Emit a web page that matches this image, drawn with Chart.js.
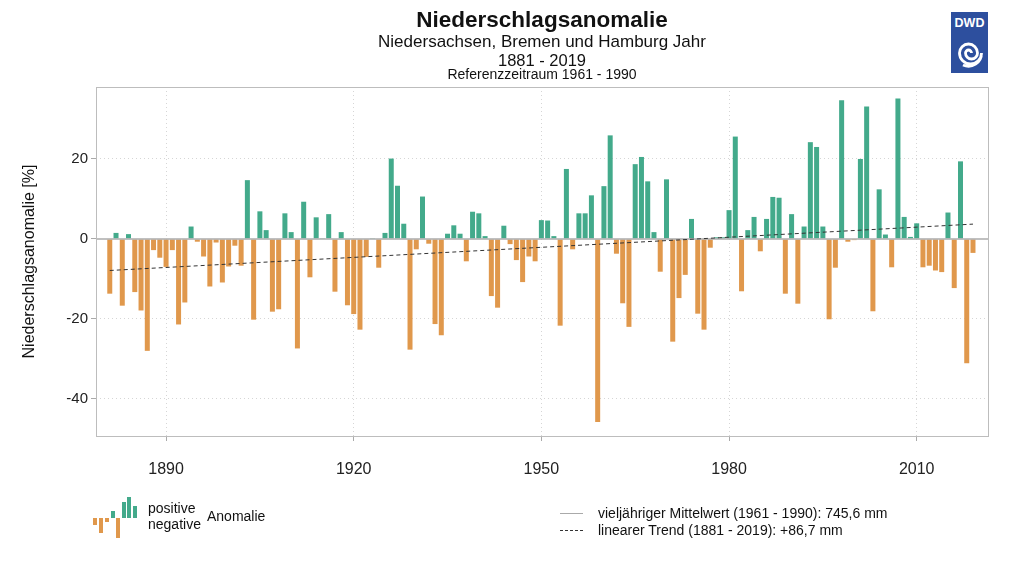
<!DOCTYPE html>
<html lang="de">
<head>
    <meta charset="UTF-8">
    <title>Niederschlagsanomalie</title>
    <style>
        body { margin: 0; background: #fff; font-family: "Liberation Sans", Arial, sans-serif; color: #111; }
        #wrap { position: relative; width: 1024px; height: 576px; overflow: hidden; }
        #myChart { position: absolute; left: 0; top: 0; }
        .t { position: absolute; white-space: nowrap; }
        .c { left: 542px; transform: translateX(-50%); }
        .bar { position: absolute; width: 4px; }
    </style>
</head>
<body>
<div id="wrap">
    <canvas id="myChart" width="1024" height="576"></canvas>

    <div class="t c" style="top:7px; font-size:22.5px; font-weight:bold;">Niederschlagsanomalie</div>
    <div class="t c" style="top:32px; font-size:17px;">Niedersachsen, Bremen und Hamburg Jahr</div>
    <div class="t c" style="top:51px; font-size:16.5px;">1881 - 2019</div>
    <div class="t c" style="top:66px; font-size:14px;">Referenzzeitraum 1961 - 1990</div>

    <svg style="position:absolute; left:951px; top:12px;" width="37" height="61" viewBox="0 0 37 61">
        <rect x="0" y="0" width="37" height="61" fill="#2d4f9e"/>
        <text x="18.5" y="15" fill="#fff" font-family="Liberation Sans, Arial" font-weight="bold" font-size="12.5" text-anchor="middle">DWD</text>
        <path d="M20.5 41 A3 3 0 0 0 14.5 41 A6 6 0 0 0 26.5 41 A9 9 0 0 0 8.5 41 A11 11 0 0 0 30.5 41 A13 13 0 0 1 12 53"
              fill="none" stroke="#fff" stroke-width="2.8"/>
    </svg>

    <div id="legIcon"></div>
    <div class="t" style="left:148px; top:500px; font-size:14px;">positive</div>
    <div class="t" style="left:148px; top:516px; font-size:14px;">negative</div>
    <div class="t" style="left:207px; top:508px; font-size:14px;">Anomalie</div>

    <div style="position:absolute; left:560px; top:513px; width:23px; border-top:1px solid #aaa;"></div>
    <div class="t" style="left:598px; top:505px; font-size:14px;">vieljähriger Mittelwert (1961 - 1990): 745,6 mm</div>
    <div style="position:absolute; left:560px; top:530px; width:23px; border-top:1px dashed #333;"></div>
    <div class="t" style="left:598px; top:522px; font-size:14px;">linearer Trend (1881 - 2019): +86,7 mm</div>
</div>

<script src="https://cdn.jsdelivr.net/npm/chart.js"></script>
<script>
    // Niederschlagsanomalie in % vom Mittel 1961-1990, ein Wert pro Jahr ab 1881
    const firstYear = 1881;
    const anomaly = [
        -13.7, 1.5, -16.7, 1.2, -13.3, -17.9, -28.0, -2.8, -4.7,          // 1881-1889
        -7.0, -2.8, -21.4, -15.9, 3.1, -0.7, -4.4, -11.9, -0.9, -10.9,     // 1890-1899
        -6.9, -1.7, -6.7, 14.7, -20.2, 6.9, 2.2, -18.2, -17.6, 6.4,        // 1900-1909
        1.7, -27.4, 9.3, -9.6, 5.4, 0.2, 6.2, -13.2, 1.7, -16.6,           // 1910-1919
        -18.8, -22.7, -4.5, 0.2, -7.2, 1.5, 20.1, 13.3, 3.8, -27.7,        // 1920-1929
        -2.6, 10.6, -1.2, -21.3, -24.1, 1.3, 3.4, 1.3, -5.6, 6.8,          // 1930-1939
        6.4, 0.7, -14.3, -17.2, 3.3, -1.3, -5.3, -10.8, -4.4, -5.6,        // 1940-1949
        4.7, 4.6, 0.7, -21.7, 17.5, -2.6, 6.4, 6.4, 10.9, -45.8,           // 1950-1959
        13.2, 25.9, -3.7, -16.1, -22.0, 18.7, 20.5, 14.4, 1.7, -8.2,       // 1960-1969
        14.9, -25.7, -14.8, -9.0, 5.0, -18.7, -22.7, -2.2, 0.4, 0.4,       // 1970-1979
        7.2, 25.6, -13.1, 2.2, 5.5, -3.1, 5.0, 10.5, 10.3, -13.7,          // 1980-1989
        6.2, -16.2, 3.1, 24.2, 23.0, 3.1, -20.1, -7.2, 34.7, -0.7,         // 1990-1999
        -0.3, 20.0, 33.1, -18.1, 12.4, 1.1, -7.1, 35.1, 5.5, 0.5,          // 2000-2009
        3.9, -7.1, -6.7, -7.9, -8.3, 6.6, -12.3, 19.4, -31.1, -3.5         // 2010-2019
    ];
    const trendYears = [1881, 2019];
    const trendValues = [-7.9, 3.7];
    const xRange = [1878.8, 2021.4];
    const yRange = [-49.3, 38];
    const xTicks = [1890, 1920, 1950, 1980, 2010];
    const yTicks = [-40, -20, 0, 20];

    const posColor = "#43aa8b";
    const negColor = "#e0984c";

    // kleines Balken-Symbol in der Legende
    const iconBars = [
        [93, -7], [99, -15], [105, -4], [111, 7], [116, -20], [122, 16], [127, 21], [133, 12]
    ];
    let v_icon = document.getElementById("legIcon");
    for (let i = 0; i < iconBars.length; i++) {
        let b = document.createElement("div");
        b.className = "bar";
        b.style.left = iconBars[i][0] + "px";
        let h = Math.abs(iconBars[i][1]);
        b.style.height = h + "px";
        b.style.top = (iconBars[i][1] > 0 ? 518 - h : 518) + "px";
        b.style.background = iconBars[i][1] > 0 ? posColor : negColor;
        v_icon.appendChild(b);
    }

    let v_bars = [];
    for (let i = 0; i < anomaly.length; i++) {
        v_bars.push({ x: firstYear + i, y: anomaly[i] });
    }

    const plotBox = {
        id: "plotBox",
        afterDraw(chart) {
            const a = chart.chartArea;
            const ctx = chart.ctx;
            ctx.save();
            ctx.strokeStyle = "#bdbdbd";
            ctx.lineWidth = 1;
            ctx.strokeRect(a.left + 0.5, a.top + 0.5, a.right - a.left, a.bottom - a.top);
            ctx.restore();
        }
    };

    const ctx = document.getElementById("myChart");
    new Chart(ctx, {
        type: "bar",
        data: {
            datasets: [
                {
                    type: "line",
                    data: [{ x: trendYears[0], y: trendValues[0] }, { x: trendYears[1], y: trendValues[1] }],
                    borderColor: "#333",
                    borderWidth: 1,
                    borderDash: [4, 3],
                    pointRadius: 0,
                    order: 0
                },
                {
                    type: "line",
                    data: [{ x: xRange[0], y: 0 }, { x: xRange[1], y: 0 }],
                    borderColor: "#ababab",
                    borderWidth: 1.5,
                    pointRadius: 0,
                    order: 1
                },
                {
                    data: v_bars,
                    backgroundColor: (c) => (c.raw && c.raw.y >= 0 ? posColor : negColor),
                    barPercentage: 0.8,
                    categoryPercentage: 1,
                    order: 2
                }
            ]
        },
        options: {
            responsive: false,
            animation: false,
            devicePixelRatio: 1,
            layout: { padding: { left: 20, right: 36, top: 87, bottom: 0 } },
            plugins: { legend: { display: false }, tooltip: { enabled: false } },
            scales: {
                x: {
                    type: "linear",
                    offset: false,
                    min: xRange[0],
                    max: xRange[1],
                    afterBuildTicks: (s) => { s.ticks = xTicks.map(v => ({ value: v })); },
                    afterFit: (s) => { s.height = 140; },
                    grid: { color: "#d6d6d6", tickColor: "#aaa", tickLength: 5, offset: false },
                    border: { display: false, dash: [1, 3] },
                    ticks: {
                        padding: 19,
                        color: "#222",
                        font: { family: "Liberation Sans", size: 16 },
                        callback: (v) => String(v)
                    }
                },
                y: {
                    min: yRange[0],
                    max: yRange[1],
                    afterBuildTicks: (s) => { s.ticks = yTicks.map(v => ({ value: v })); },
                    afterFit: (s) => { s.width = 76; },
                    grid: {
                        color: (c) => (c.tick && c.tick.value === 0 ? "rgba(0,0,0,0)" : "#d6d6d6"),
                        tickColor: "#aaa",
                        tickLength: 5
                    },
                    border: { display: false, dash: [1, 3] },
                    ticks: {
                        padding: 3,
                        color: "#222",
                        font: { family: "Liberation Sans", size: 15 }
                    },
                    title: {
                        display: true,
                        text: "Niederschlagsanomalie [%]",
                        color: "#111",
                        font: { family: "Liberation Sans", size: 16 },
                        padding: { top: 0, bottom: 4 }
                    }
                }
            }
        },
        plugins: [plotBox]
    });
</script>
</body>
</html>
